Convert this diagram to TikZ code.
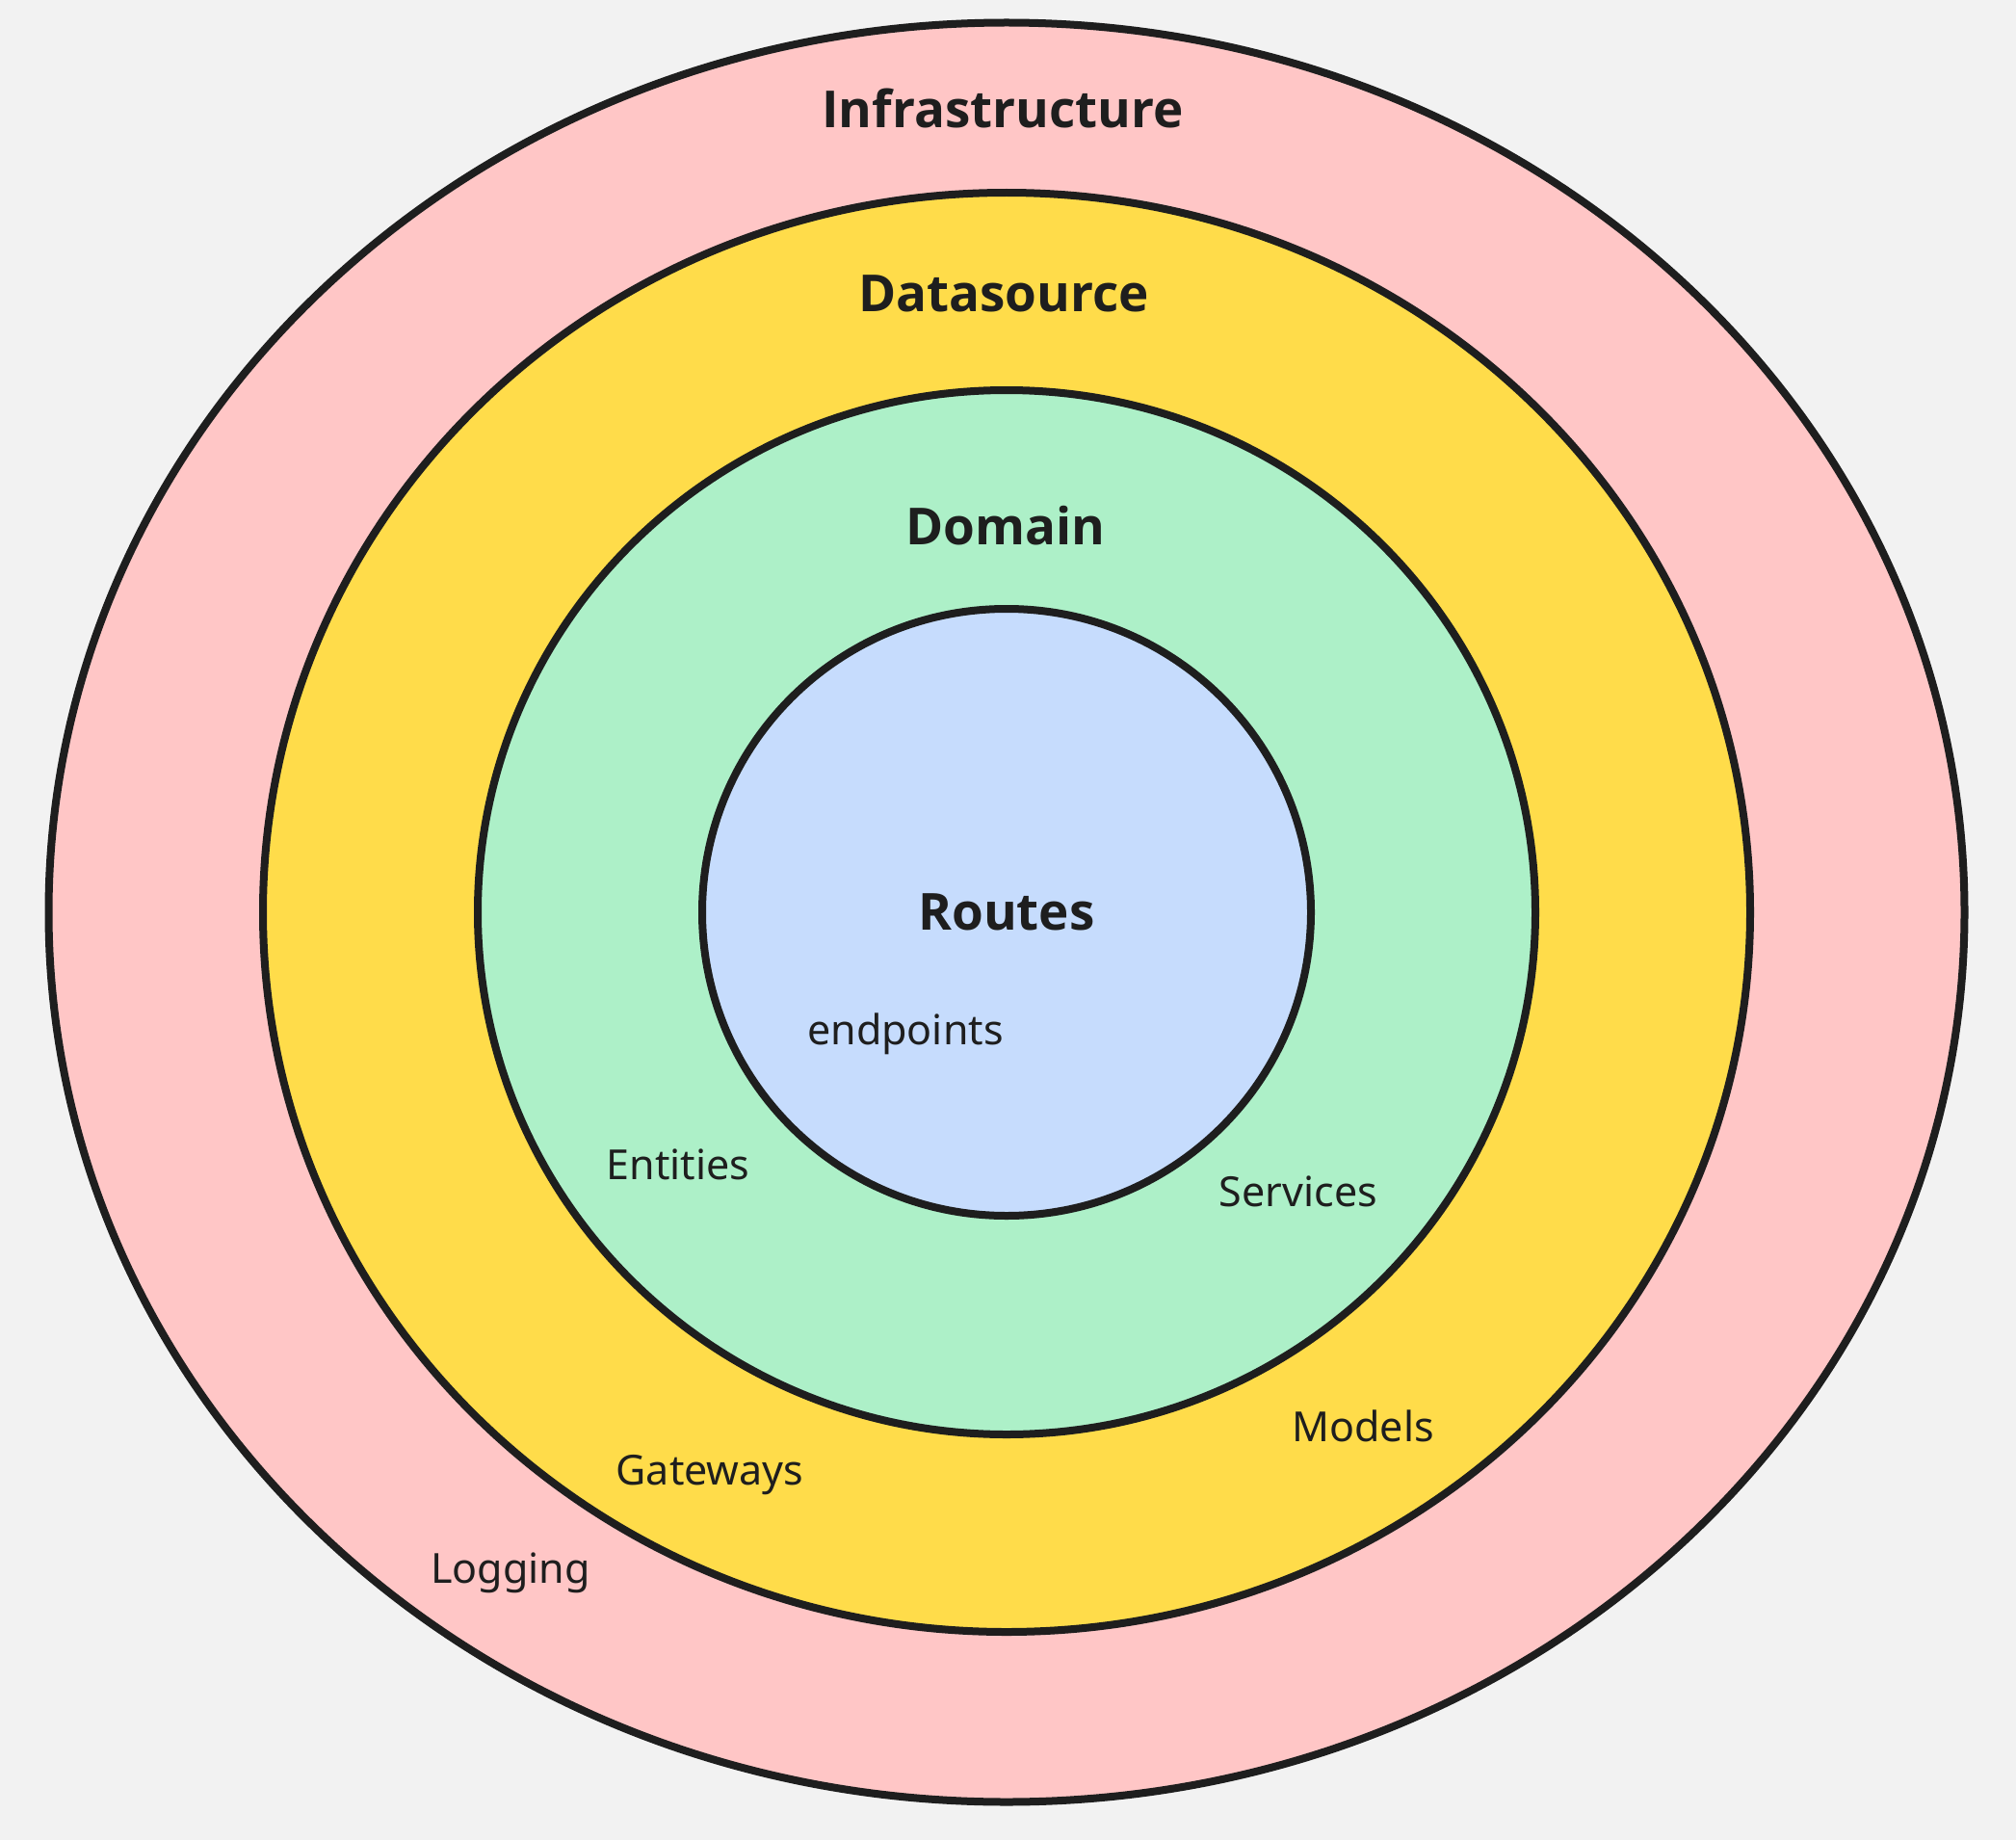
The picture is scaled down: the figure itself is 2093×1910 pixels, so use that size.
\documentclass[tikz,border=0pt]{standalone}
\usepackage{fontspec}
\setmainfont{Noto Sans}
\newfontfamily\titlefont{Open Sans}
\usetikzlibrary{shapes.geometric}
\definecolor{bg}{HTML}{F2F2F2}
\definecolor{infracol}{HTML}{FFC6C6}
\definecolor{datacol}{HTML}{FFDC4A}
\definecolor{domaincol}{HTML}{ADF0C8}
\definecolor{routecol}{HTML}{C6DCFD}
\definecolor{ink}{HTML}{1E1E1E}
\begin{document}
\begin{tikzpicture}[x=0.5pt,y=-0.5pt,
  layer/.style={ellipse, draw=ink, line width=4pt, inner sep=0pt, outer sep=0pt},
  title/.style={font=\fontsize{26.5}{31}\selectfont\titlefont\bfseries, text=ink, anchor=base, inner sep=0pt},
  item/.style={font=\fontsize{21.5}{26}\selectfont, text=ink, anchor=base, inner sep=0pt}]
\fill[bg] (0,0) rectangle (2093,1910);
\useasboundingbox (0,0) rectangle (2093,1910);
\node[layer, fill=infracol, minimum width=1989pt/2, minimum height=1847pt/2] (infra) at (1045,947) {};
\node[layer, fill=datacol, minimum width=772pt, minimum height=747pt] (data) at (1045,947) {};
\node[layer, fill=domaincol, minimum width=549pt, minimum height=542pt] (domain) at (1045,947) {};
\node[layer, fill=routecol, minimum width=316pt, minimum height=315pt] (routes) at (1045,947) {};
\node[title] (tinfra) at (1041,132.7) {Infrastructure};
\node[title] (tdata) at (1042,323) {Datasource};
\node[title] (tdomain) at (1044,565) {Domain};
\node[title] (troutes) at (1045,965) {Routes};
\node[item] (endpoints) at (940,1084) {endpoints};
\node[item] (entities) at (704,1224) {Entities};
\node[item] (services) at (1348,1252) {Services};
\node[item] (models) at (1415,1496) {Models};
\node[item] (gateways) at (737,1541.7) {Gateways};
\node[item] (logging) at (530,1643) {Logging};
\end{tikzpicture}
\end{document}
